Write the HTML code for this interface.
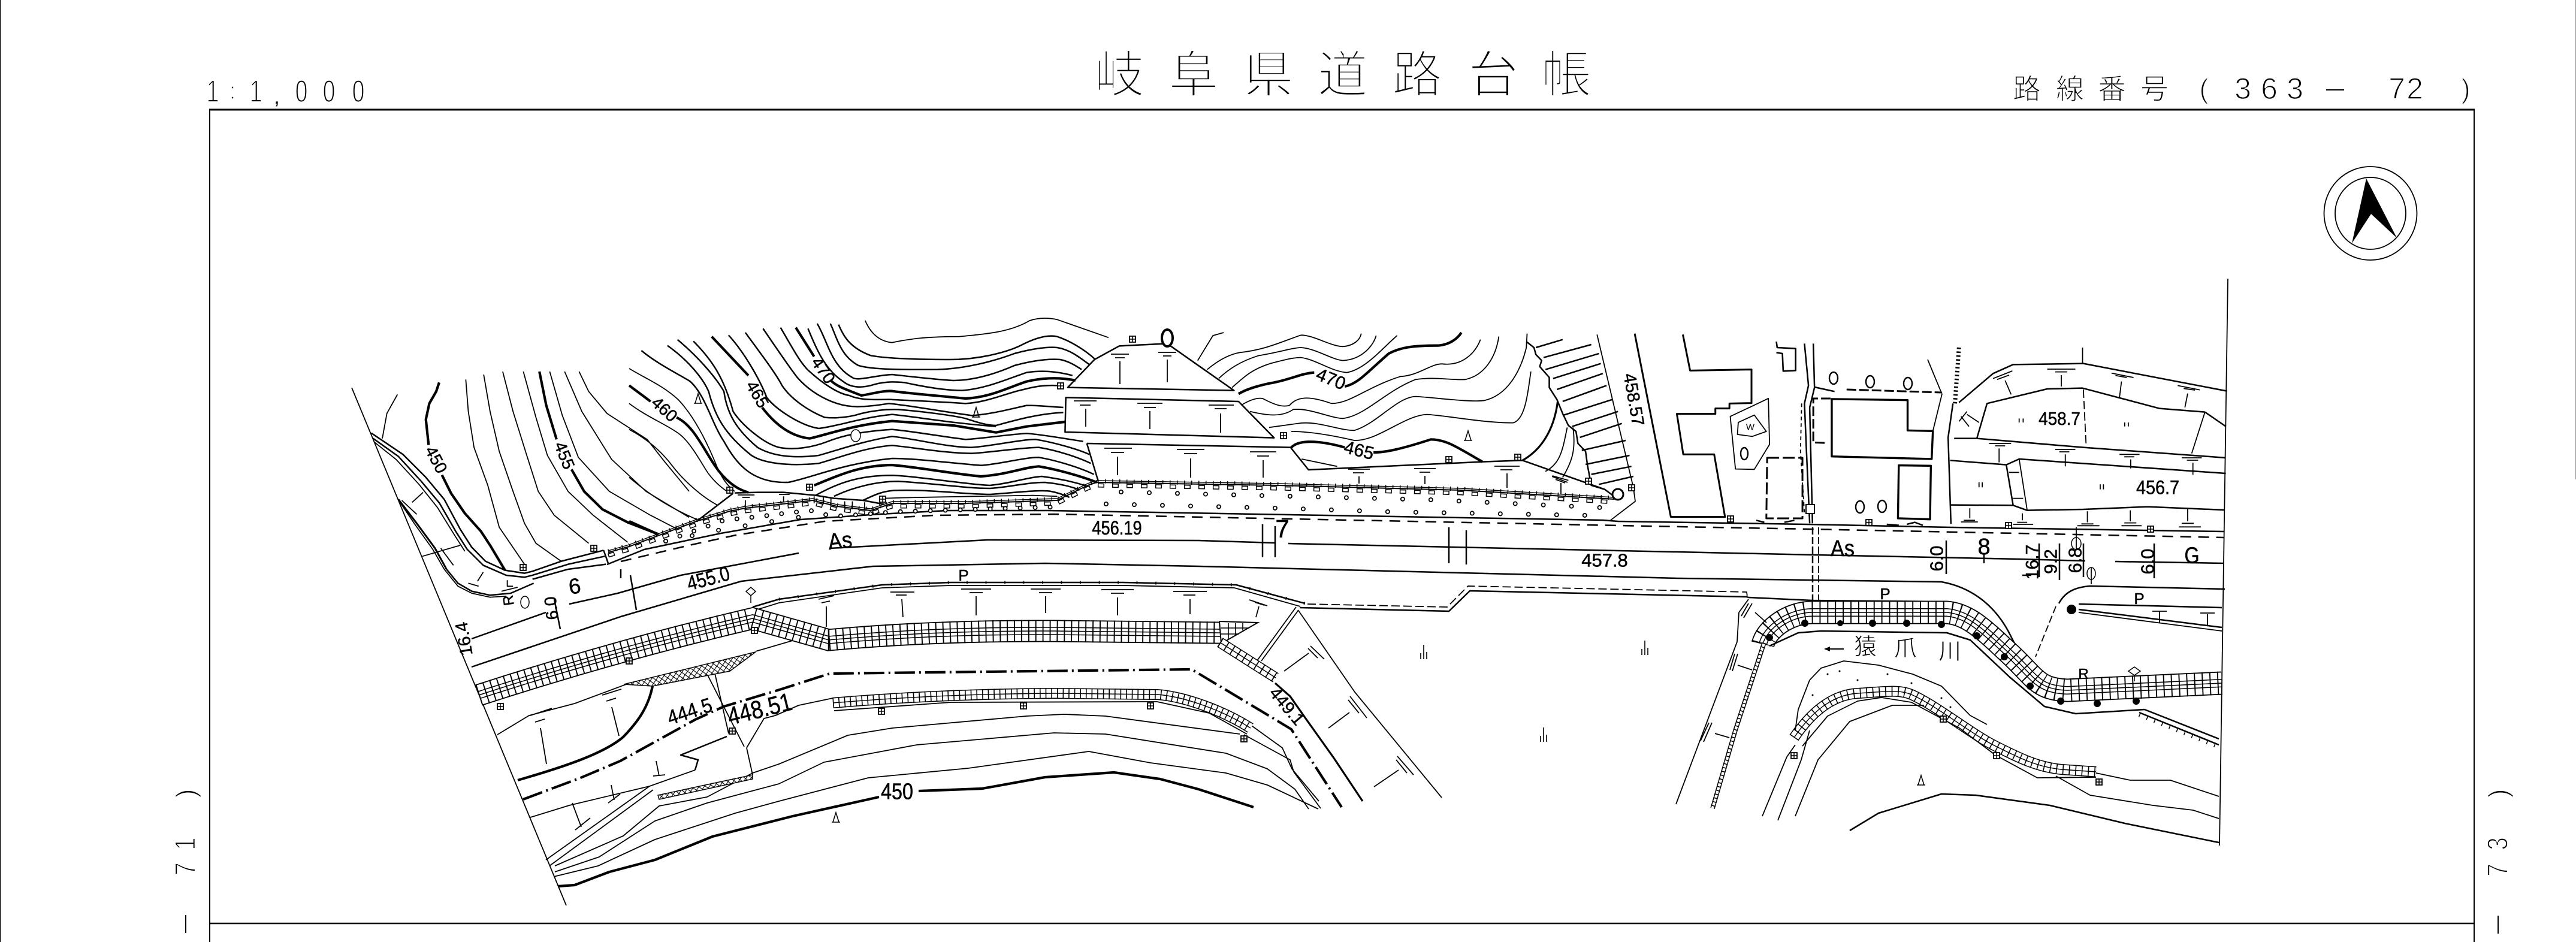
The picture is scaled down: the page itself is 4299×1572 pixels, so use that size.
<!DOCTYPE html>
<html lang="ja"><head><meta charset="utf-8"><title>岐阜県道路台帳</title>
<style>
html,body{margin:0;padding:0;background:#fff}
svg{display:block}
svg *{vector-effect:non-scaling-stroke}
.l{fill:none;stroke:#000;stroke-width:1.8;stroke-linejoin:round}
.m{fill:none;stroke:#000;stroke-width:2.5;stroke-linejoin:round}
.k{fill:none;stroke:#000;stroke-width:4.2;stroke-linejoin:round}
.f{fill:none;stroke-linejoin:miter}
text{font-family:"Liberation Sans","Noto Sans CJK JP",sans-serif;fill:#000}
.c{text-anchor:middle;dominant-baseline:central}
.tt{stroke:#fff;stroke-width:3.6}
.th{stroke:#fff;stroke-width:1.5}
.tl{stroke:#fff;stroke-width:.9}
.b{stroke:#000;stroke-width:.5}
</style></head><body>
<svg xmlns="http://www.w3.org/2000/svg" width="4299" height="1572" viewBox="0 0 4299 1572">
<defs>
<path id="bA" d="M799 1160Q1030 1085 1256 1032L1383 1068Q1560 1052 1759 1053L2037 1056"/>
<path id="bB" d="M2036 1072L2129 1131"/>
<path id="bC" d="M1390 1173Q1570 1158 1759 1157L1931 1159C1975 1162 2040 1185 2087 1215"/>
<path id="bD" d="M2942 1075C2948 1050 2985 1022 3025 1022L3249 1022C3285 1025 3310 1050 3354 1091S3400 1150 3450 1152L3708 1140"/>
<path id="bE" d="M2994 1231C3015 1200 3050 1160 3100 1157S3170 1150 3192 1160C3235 1180 3290 1225 3330 1245S3400 1280 3440 1284L3498 1288"/>
<path id="bF" d="M2944 1073L2896 1219L2858 1349"/>
<path id="row" d="M1015 922L1050 912L1162 870L1218 853L1244 848L1315 840L1356 835L1397 845L1453 852L1489 840L1611 840L1764 835L1815 810L1830 805L2133 810L2439 818L2694 833"/>
<pattern id="hx" width="7" height="7" patternUnits="userSpaceOnUse" patternTransform="rotate(35)"><rect width="7" height="7" fill="#fff"/><path d="M0 0H7M0 0V7" stroke="#000" stroke-width="2.2"/></pattern>
<g id="b"><rect x="-5" y="-5" width="10" height="10" fill="#fff" stroke="#000" stroke-width="1.8"/><path d="M0-5V5M-5 0H5" stroke="#000" stroke-width="1.5"/></g>
<g id="t"><path d="M-5 0V-10M0 0V-24M5 0V-12" fill="none" stroke="#000" stroke-width="1.6"/></g>
<path id="lam" d="M-5 8L0-8L5 8M-7 8H7" fill="none" stroke="#000" stroke-width="1.6"/>
</defs>
<rect width="4299" height="1572" fill="#fff"/>

<!-- page edges and frame -->
<path d="M1 0V1572" stroke="#000" stroke-width="1.5"/>
<path d="M4297.5 0V800" stroke="#000" stroke-width="1"/>
<path d="M350 183V1572" stroke="#000" stroke-width="2"/>
<path d="M4129 183V1572" stroke="#000" stroke-width="2"/>
<path d="M349 183H4130" stroke="#000" stroke-width="3"/>
<path d="M350 1541H4129" stroke="#000" stroke-width="2.5"/>

<!-- title block -->
<text class="tt" font-size="84" y="154" x="1826 1950 2075 2199 2323 2450 2572">岐阜県道路台帳</text>
<g font-size="52">
<text class="th c" transform="translate(355 152) scale(.72 1)">1</text>
<text class="th c" transform="translate(388 152)" font-size="40">:</text>
<text class="th c" transform="translate(427 152) scale(.72 1)">1</text>
<text class="c" transform="translate(462 162)" font-size="34">,</text>
<text class="th c" transform="translate(503 152) scale(.72 1)">0</text>
<text class="th c" transform="translate(549 152) scale(.72 1)">0</text>
<text class="th c" transform="translate(598 152) scale(.72 1)">0</text>
</g>
<text class="th" font-size="47" y="165" x="3359 3431 3501 3572">路線番号</text>
<g font-size="50">
<text class="th c" x="3678" y="148" font-size="46">(</text>
<text class="th c" x="3743" y="148">3</text><text class="th c" x="3787" y="148">6</text><text class="th c" x="3830" y="148">3</text>
<path d="M3882 150H3912" stroke="#000" stroke-width="2"/>
<text class="th c" x="4000" y="148">7</text><text class="th c" x="4030" y="148">2</text>
<text class="th c" x="4115" y="148" font-size="46">)</text>
</g>
<g font-size="48">
<text class="th c" transform="translate(310 1324) rotate(-90)" font-size="46">)</text>
<text class="th c" transform="translate(310 1408) rotate(-90) scale(.8 1)">1</text>
<text class="th c" transform="translate(310 1450) rotate(-90) scale(.8 1)">7</text>
<path d="M310 1527V1557" stroke="#000" stroke-width="2"/>
<text class="th c" transform="translate(4169 1324) rotate(-90)" font-size="46">)</text>
<text class="th c" transform="translate(4169 1408) rotate(-90) scale(.8 1)">3</text>
<text class="th c" transform="translate(4169 1452) rotate(-90) scale(.8 1)">7</text>
<path d="M4169 1528V1558" stroke="#000" stroke-width="2"/>
</g>

<!-- north arrow -->
<ellipse cx="3956" cy="356" rx="77.5" ry="78" fill="none" stroke="#000" stroke-width="1.8"/>
<ellipse cx="3956" cy="356" rx="59" ry="60" fill="none" stroke="#000" stroke-width="1.8"/>
<path d="M3949 298L4000 397L3957 357L3925 406Z" fill="#000"/>

<!-- left boundary -->
<path class="l" d="M587 647L945 1511"/>

<!-- Z8 left contours and road -->
<g transform="translate(550 620) scale(.3827 .3333)">
<path class="k" d="M478 55L465 100L435 160L420 240L432 368M490 518L530 610L590 710L660 800L700 870L765 995"/>
<path class="l" d="M296 115L250 210L230 335"/>
<path class="m" d="M182 308L320 415L420 530L500 640L570 790L620 880L680 950L765 995L850 1010L885 1000L1010 950L1195 895"/>
<path class="m" d="M190 335L300 425L400 550L480 660L550 800L600 890L670 970L770 1020L850 1030L885 1020L1040 965L1200 925"/>
<path class="l" d="M197 355L290 440L390 565L470 680L540 810L590 900"/>
<path class="m" d="M1195 895L1215 960M885 1040L1040 990L1205 965"/>
<path class="k" style="stroke-width:3" d="M300 640L380 760L460 885L510 990"/>
<path class="m" d="M510 990L560 1060L620 1100L700 1120L790 1110L890 1060"/>
<path class="l" d="M310 660L375 770L450 890L500 990L560 1075L620 1110L700 1130L770 1125"/>
<path class="l" d="M594 40L605 200L630 380L690 570L740 780L850 965"/>
<path class="l" d="M672 15L700 200L740 400L800 600L850 760L900 860L1010 950"/>
<path class="l" d="M755 0L800 200L860 420L910 600L980 720L1130 860"/>
<path class="k" d="M915 0L945 170L990 340M1055 490L1110 600L1190 690L1300 755L1435 815"/>
<path class="l" d="M845 0L900 230L950 420L1040 600L1150 720L1300 855"/>
<path class="l" d="M960 0L1015 220L1085 430L1220 600L1400 720L1510 785"/>
<path class="l" d="M1025 0L1100 200L1230 440L1380 600L1568 730"/>
<path class="l" d="M1088 0L1130 100L1210 210L1385 340L1460 450L1568 600"/>
<path class="l" d="M408 605L360 655M315 645L380 715M405 925L570 870M485 885L540 970M670 1005L645 1050M605 1060L650 1075M775 1045V1075H800M750 1100L820 1080"/>
</g>

<!-- Z7 middle contours -->
<g transform="translate(1050 520) scale(.5102 .3333)">
<path class="l" d="M772 45C790 110 820 150 860 155C920 135 980 125 1080 125C1180 110 1250 100 1310 45C1340 30 1370 30 1400 40L1568 130"/>
<path class="m" d="M685 65C700 120 720 180 790 220C860 240 1000 240 1050 240C1150 240 1240 200 1280 170C1330 130 1370 115 1400 125C1440 145 1490 190 1525 240"/>
<path class="m" d="M658 60C680 130 690 220 750 270C800 295 950 290 1010 290C1100 285 1190 250 1260 210C1320 185 1370 175 1400 180C1440 190 1470 225 1505 265"/>
<path class="m" d="M615 60C650 150 660 270 730 330C745 350 800 320 860 315C920 325 1000 340 1060 345C1130 345 1200 310 1260 270C1320 245 1370 235 1410 240C1440 250 1460 270 1480 290"/>
<path class="m" d="M585 85C610 180 640 290 700 350C720 375 750 385 790 370C830 350 860 350 900 355C960 375 1030 395 1090 395C1170 385 1240 335 1300 305C1340 295 1390 295 1450 320"/>
<path class="k" d="M545 80L605 225M660 345C675 370 700 385 760 420C800 410 830 395 860 398C920 410 1000 420 1100 435C1180 430 1240 380 1300 350C1340 335 1400 325 1460 345"/>
<path class="m" d="M495 80C530 170 560 260 590 300C630 355 680 410 720 420C750 440 780 442 850 440C920 445 1000 450 1100 460C1170 455 1240 405 1290 390C1340 370 1370 368 1400 370"/>
<path class="m" d="M438 85C480 180 520 270 550 330C590 400 640 440 680 460C720 480 760 482 850 460C920 470 1020 500 1120 520C1180 515 1240 490 1300 470C1350 470 1390 478 1420 480"/>
<path class="m" d="M380 105C430 210 480 310 500 370C530 440 590 500 640 530C680 535 720 530 760 510C800 495 840 488 880 490C960 500 1060 520 1100 535C1140 555 1170 570 1200 570C1260 545 1340 510 1420 505"/>
<path class="k" d="M270 125L390 320M435 480C480 570 530 625 590 635C640 620 720 570 860 548L1060 570L1200 605L1300 575L1425 552"/>
<path class="m" d="M325 118C380 210 430 350 450 430C480 490 560 570 620 585C680 575 760 530 860 515C930 525 1060 560 1200 575"/>
<path class="m" d="M210 148C270 240 310 330 340 500C370 570 440 660 490 680C540 695 600 680 650 650C700 620 760 600 860 590C930 600 1020 625 1100 640C1160 635 1240 615 1300 610C1350 615 1440 640 1485 650"/>
<path class="m" d="M158 140C220 220 280 320 310 400C320 510 350 590 420 680C470 725 540 735 620 720C680 695 760 650 860 625C930 635 1040 680 1120 680C1180 675 1280 640 1330 640C1390 655 1470 690 1505 715"/>
<path class="m" d="M125 170C190 240 240 330 260 400C280 520 310 610 400 720C440 760 520 775 620 760C680 735 770 680 860 670C930 680 1040 710 1120 710C1180 705 1290 680 1340 680C1400 695 1470 730 1510 760"/>
<path class="m" d="M40 195C90 260 170 320 200 350C250 420 270 560 310 650C350 760 400 860 520 855C600 830 700 760 860 735C940 735 1060 760 1150 770C1210 765 1290 730 1340 730C1400 745 1480 785 1520 815"/>
<path class="k" d="M0 370L70 450M155 530C210 570 240 680 280 770C310 840 350 890 390 905"/>
<path class="l" d="M0 285C60 340 110 370 160 440C210 520 250 640 280 750C300 830 320 870 345 900"/>
<path class="l" d="M0 460C60 530 130 570 170 620C200 660 230 740 250 790C270 840 300 880 320 900"/>
<path class="l" d="M0 590C50 630 100 690 140 770C180 850 240 930 290 970"/>
<path class="l" d="M0 830C40 880 100 960 220 1040"/>
<path class="k" d="M0 1050L95 1115"/>
<path class="k" d="M605 870C700 810 760 770 860 768C950 780 1050 810 1150 825C1240 815 1290 780 1340 775C1400 790 1480 825 1530 855"/>
<path class="m" d="M610 920C680 860 750 820 860 820C950 825 1100 865 1180 870C1250 860 1300 830 1350 825C1420 840 1460 855 1500 875"/>
<path class="m" d="M670 925C730 880 810 850 880 850C1000 860 1100 885 1180 885C1240 880 1300 855 1360 855C1420 865 1440 875 1470 890"/>
<path class="m" d="M765 945C800 920 830 895 880 895C980 890 1100 915 1180 915C1240 910 1340 890 1380 900C1410 910 1425 920 1440 930"/>
<path class="l" d="M830 935C900 930 1150 925 1320 920L1400 925"/>
<path class="m" d="M345 908L420 905L505 905L610 920L670 935L765 945L835 965"/>
<path class="m" d="M340 910L225 1045"/>
<path class="l" d="M355 918H410M370 930H395M380 945V985M490 915H525M505 925V955M605 925V960M635 930V965M660 930V970M705 950V985M730 950V990M770 955V995"/>
</g>

<!-- Z9 pads -->
<g transform="translate(1750 520) scale(.6378 .3333)">
<path class="m" d="M50 380L120 240L185 172L310 160L485 395Z"/>
<path class="m" d="M45 430L497 450L590 632L43 603Z"/>
<path class="m" d="M100 660L633 680L680 792L1135 752L1240 745L1455 890L1490 940M100 660L130 850"/>
<path class="l" d="M662 738L755 775"/>
<path class="l" d="M390 245L430 120L458 105"/>
<path class="l" d="M415 290C440 250 470 215 500 205C570 190 610 150 660 118C690 115 740 175 770 175C800 170 815 140 818 110"/>
<path class="l" d="M445 335C470 290 500 250 550 220C600 205 640 180 660 180C700 185 740 240 770 245C820 240 850 170 857 120"/>
<path class="l" d="M480 380C510 330 530 290 580 260C620 240 640 230 660 230C700 240 740 300 780 305C830 290 880 170 912 120"/>
<path class="k" d="M497 412C520 385 560 365 590 355C640 335 660 310 695 305M775 375C810 360 830 310 890 210C920 180 950 170 1020 170C1050 165 1070 135 1080 105"/>
<path class="l" d="M507 465C525 445 545 430 560 435C590 465 610 480 630 470C650 425 680 420 740 460C790 460 830 380 920 325C970 320 1000 260 1030 262C1090 275 1120 190 1130 140"/>
<path class="l" d="M527 500C570 520 610 530 640 490C680 480 740 535 770 535C830 520 880 400 960 340C1010 325 1060 345 1090 340C1140 320 1170 230 1178 125"/>
<path class="l" d="M577 580L660 558C710 550 760 595 800 595C860 560 910 430 960 425C1010 430 1100 455 1140 445C1200 420 1235 300 1250 180L1252 110"/>
<path class="l" d="M635 600C670 600 720 610 800 645C860 650 930 520 990 515C1040 520 1140 558 1215 557C1250 540 1255 380 1262 300"/>
<path class="k" d="M635 680C650 650 690 635 775 680M850 705C880 705 920 690 1000 640C1040 640 1070 680 1135 752"/>
<path class="k" style="stroke-width:3.2" d="M1240 745C1300 680 1325 560 1332 450"/>
<path class="l" d="M1300 800C1340 760 1345 690 1357 580M1345 830C1370 750 1380 690 1372 580"/>
<path class="m" d="M1250 150L1270 180L1275 215L1290 245L1285 275L1310 330L1310 380L1330 440L1345 510L1360 570L1380 600L1385 660L1405 700L1410 770L1420 870L1455 890"/>
<path class="l" d="M1435 115L1530 880L1535 950L1470 1045"/>
<path class="m" d="M1275 180L1345 140M1295 230L1420 165M1300 290L1440 210M1320 335L1445 260M1330 390L1450 310M1345 450L1460 370M1345 520L1475 440M1370 575L1490 500M1390 630L1500 560M1395 695L1510 645M1405 765L1520 720M1420 815L1525 775M1440 865L1530 825"/>
<path class="l" d="M1318 822L1360 845"/>
</g>

<!-- marks -->
<path class="l" d="M1854 591h30M1861 597h16M1869 603v38M1933 588h30M1941 594h14M1948 600v38
M1792 669h38M1802 676h18M1812 682v30M1898 673h42M1909 680h20M1919 686v30M2017 676h42M2027 682h20M2037 690v32
M1843 748h46M1854 755h22M1865 762v31M1964 750h46M1976 757h22M1987 765v32M2086 754h44M2098 761h20M2108 768v29
M2250 783h36M2258 789h18M2268 795v12M2360 782h36M2369 788h18M2378 794v14M2494 778h42M2504 784h20M2515 790v24M2590 795l26 10M2596 800l16 6M2605 806v18
M1366 1000l26-6M1371 1006l14-3M1379 1012v34M1486 988h40M1495 993h18M1505 1000l2 30M1604 983h50M1618 989h22M1629 995v32M1720 983h50M1734 989h22M1745 995v28M1838 984h54M1854 990h22M1865 997v30M1958 987h56M1975 993h20M1986 1000v25M2085 1001l30 10M2094 1005l16 5M2101 1012l-5 18
M885 1194l36-12M893 1205l16-5M902 1215l10 60M1005 1160l32-10M1012 1170l16-5M1021 1180l12 48
M1175 1115L1242 1246M1191 1115L1216 1224
"/>

<!-- roads -->
<path class="m" d="M1013 942L1075 917L1203 890L1336 867L1468 858L1581 852L1750 852L2675 868L2700 870L3015 875L3256 880L3711 887"/>
<path class="m" style="stroke-dasharray:18 12" d="M1036 937L1150 910L1228 893L1376 870L1560 860L1760 858L2750 878L3021 883L3711 897"/>
<path class="m" d="M787 1066L911 1022M950 1008L1031 990L1136 960L1333 923M1385 915L1648 901L2000 902L2128 906M2150 907L3028 926L3370 933L3480 936M3530 937L3711 940"/>
<path class="m" d="M787 1113L1036 1029L1237 970L1457 945L1744 940L2000 945L2800 965L3240 971C3290 980 3330 1010 3355 1060S3385 1110 3400 1125"/>
<path class="m" d="M3436 1007C3445 990 3460 980 3488 978L3713 983"/>
<path class="l" style="stroke-dasharray:12 5" d="M3431 1012L3397 1096"/>
<path class="m" d="M1256 1013L1300 1000L1472 976L1587 972L1874 972L2063 976L2178 1007"/>
<path class="l" d="M1258 1019L1300 1006L1472 981L1587 977L1874 977L2060 981L2170 1012"/>
<path fill="none" stroke="#000" stroke-width="5" stroke-dasharray="1.5 30" d="M1300 1000L1472 976L1587 972L1874 972L2063 976L2178 1007"/>
<path class="l" style="stroke-dasharray:14 6" d="M2182 1008L2415 1013L2450 978L2915 988L2916 996"/>
<path class="m" d="M2169 1014L2418 1020L2453 986L2915 996L2918 997L3025 1002L3240 1004"/>
<path class="l" d="M2163 1013L2096 1105M2167 1018L2105 1103M2167 1019L2261 1155L2406 1331"/>
<path class="k" style="stroke-width:3.2" d="M2128 1140L2153 1162L2179 1199L2226 1265L2274 1337"/>
<path class="k" style="stroke-dasharray:34 7 3 7" d="M873 1334L969 1298L1035 1270L1160 1201L1208 1179L1304 1150L1385 1124L1989 1117L1997 1122L2127 1200L2155 1217L2239 1347"/>
<path class="l" d="M2902 1022L2899 1071L2797 1342M2902 1022L2918 1000"/>
<path class="m" d="M3025 880V1005" style="stroke-dasharray:12 4"/><path class="l" d="M3035 880V1005" style="stroke-dasharray:12 4"/>

<!-- bottom contours -->
<path class="k" d="M931 1479L959 1477L1017 1455L1093 1435L1189 1396L1323 1362L1467 1330M1533 1320L1639 1316L1744 1297L1859 1289L1936 1300L2000 1317L2092 1347"/>
<path class="l" d="M924 1463L998 1445L1093 1401L1227 1357L1300 1337L1449 1298L1616 1282L1817 1254L1920 1273L2046 1290L2115 1310L2200 1350"/>
<path class="l" d="M926 1455L1000 1430L1093 1370L1180 1340L1300 1308L1375 1272L1530 1243L1759 1223L1845 1225L2046 1257L2115 1283L2161 1317L2184 1350"/>
<path class="l" d="M926 1445L1040 1395L1100 1345L1180 1330L1256 1290L1300 1275L1415 1227L1489 1215L1713 1195L1776 1192L1845 1195L2069 1225"/>
<path class="l" d="M911 1435L1084 1312L1160 1285M917 1445L1090 1318M2076 1226L2153 1268L2159 1288L2204 1349M2086 1209L2140 1248L2156 1283L2201 1337"/>
<path class="l" d="M1390 1165L1333 1177L1294 1194L1275 1199L1246 1248M1246 1248L1256 1293"/>
<path class="m" d="M1160 1285L1165 1268L1136 1260L1213 1229"/>
<path class="k" d="M1089 1145C1082 1180 1065 1204 1040 1230C1007 1258 940 1280 864 1302"/>
<path class="l" d="M1045 1142L959 1174L883 1194L830 1226M1261 1087L1333 1066M885 1364L950 1344L1084 1312"/>
<path d="M1041 1142L1261 1088L1218 1120L1089 1145Z" fill="url(#hx)" stroke="#000" stroke-width="1.5"/>
<path d="M1098 1327L1256 1293L1256 1300L1100 1334Z" fill="url(#hx)" stroke="#000" stroke-width="1.5"/>
<path class="l" d="M1100 1295L1095 1270M1090 1295L1110 1293M1025 1335L1020 1310M1015 1340L1035 1325M970 1380L955 1340M960 1385L985 1365"/>

<!-- mesh bands -->
<g class="f">
<use href="#bA" stroke="#000" stroke-width="37"/><use href="#bA" stroke="#fff" stroke-width="33.4"/><use href="#bA" stroke="#000" stroke-width="13.5"/><use href="#bA" stroke="#fff" stroke-width="10.5"/><use href="#bA" stroke="#000" stroke-width="1.5"/><use href="#bA" stroke="#000" stroke-width="37" stroke-dasharray="1.9 10"/>
<path d="M2035 1037L2099 1039L2038 1074Z" fill="#fff" stroke="#000" stroke-width="2"/>
<path d="M2050 1040V1068M2062 1040V1060M2074 1040V1052M2038 1048H2085M2038 1058H2068" fill="none" stroke="#000" stroke-width="1.6"/>
<use href="#bB" stroke="#000" stroke-width="18"/><use href="#bB" stroke="#fff" stroke-width="15"/><use href="#bB" stroke="#000" stroke-width="1.4"/><use href="#bB" stroke="#000" stroke-width="18" stroke-dasharray="1.8 10"/>
<use href="#bC" stroke="#000" stroke-width="18"/><use href="#bC" stroke="#fff" stroke-width="15"/><use href="#bC" stroke="#000" stroke-width="1.4"/><use href="#bC" stroke="#000" stroke-width="18" stroke-dasharray="1.6 8"/>
<use href="#bD" stroke="#000" stroke-width="39"/><use href="#bD" stroke="#fff" stroke-width="35.4"/><use href="#bD" stroke="#000" stroke-width="14"/><use href="#bD" stroke="#fff" stroke-width="11"/><use href="#bD" stroke="#000" stroke-width="1.5"/><use href="#bD" stroke="#000" stroke-width="39" stroke-dasharray="1.9 11"/>
<use href="#bE" stroke="#000" stroke-width="18"/><use href="#bE" stroke="#fff" stroke-width="15"/><use href="#bE" stroke="#000" stroke-width="1.4"/><use href="#bE" stroke="#000" stroke-width="18" stroke-dasharray="1.6 9"/>
<use href="#bF" stroke="#000" stroke-width="7.5"/><use href="#bF" stroke="#fff" stroke-width="4.5"/><use href="#bF" stroke="#000" stroke-width="7.5" stroke-dasharray="1.6 5"/>
</g>
<path class="l" d="M1392 1186L1587 1172L1931 1171L2018 1190L2081 1225"/>
<path class="m" d="M1383 1086L1383 1050"/>
<path class="l" d="M3008 1245L3050 1195L3100 1170L3140 1164L3190 1172L3270 1215L3330 1260L3400 1298L3498 1297"/>

<!-- stone rows -->
<g fill="none">
<use href="#row" stroke="#000" stroke-width="2"/>
<use href="#row" y="-3" stroke="#000" stroke-width="1.4"/>
<use href="#row" y="5" stroke="#000" stroke-width="7" stroke-dasharray="11 13"/>
<use href="#row" y="5" stroke="#fff" stroke-width="4" stroke-dasharray="8 16" stroke-dashoffset="-1.5"/>
<use href="#row" y="-2" stroke="#000" stroke-width="7" stroke-dasharray="1.5 10.5"/>
</g>
<!-- dot fields -->
<g fill="none" stroke-linecap="round">
<path stroke="#000" stroke-width="8" stroke-dasharray="0 47" d="M1871 821L2108 827L2388 834L2671 847"/>
<path stroke="#fff" stroke-width="4.4" stroke-dasharray="0 47" d="M1871 821L2108 827L2388 834L2671 847"/>
<path stroke="#000" stroke-width="8" stroke-dasharray="0 47" d="M1846 841L2133 848L2318 854L2646 860"/>
<path stroke="#fff" stroke-width="4.4" stroke-dasharray="0 47" d="M1846 841L2133 848L2318 854L2646 860"/>
<path stroke="#000" stroke-width="8" stroke-dasharray="0 25" d="M1111 903L1209 868L1268 862L1314 856L1353 852L1382 860L1405 861L1495 854L1760 846"/>
<path stroke="#fff" stroke-width="4.4" stroke-dasharray="0 25" d="M1111 903L1209 868L1268 862L1314 856L1353 852L1382 860L1405 861L1495 854L1760 846"/>
<path stroke="#000" stroke-width="8" stroke-dasharray="0 45" d="M1111 903L1208 883L1341 862"/>
<path stroke="#fff" stroke-width="4.4" stroke-dasharray="0 45" d="M1111 903L1208 883L1341 862"/>
</g>

<!-- Z10 top-right blocks -->
<g transform="translate(2700 540) scale(.6697 .3333)">
<path class="k" style="stroke-width:3" d="M42 50L132 968L267 968L240 655L163 655L147 452L243 452L243 425L278 425L278 400L333 398L333 230L180 235L162 55"/>
<path class="k" style="stroke-width:3.4" d="M533 378L722 383L722 535L785 538L782 678L533 665Z"/>
<path class="l" d="M808 350L785 538"/>
<path class="k" style="stroke-dasharray:16 5;stroke-width:3" d="M530 375L487 375L487 595L520 598"/>
<path class="k" style="stroke-dasharray:20 6;stroke-width:3" d="M372 672L460 672L460 975L370 975Z"/>
<path class="k" style="stroke-width:3.4" d="M700 710L780 712L778 980L698 975Z"/>
<path class="m" d="M465 100L475 310L465 400L470 640L478 1000"/>
<path class="m" d="M487 100L490 320L478 420L485 1000"/>
<path class="l" style="stroke-dasharray:6 5" d="M458 400L455 640L465 950"/>
<path class="k" style="stroke-width:2.6" d="M395 90L397 120L443 125L443 235L412 238L410 150L395 145"/>
<path class="m" d="M490 318L540 340"/><path class="k" style="stroke-dasharray:16 5;stroke-width:3" d="M570 330L808 345"/>
<path class="l" d="M772 180L805 340"/>
<path class="k" style="stroke-dasharray:2.5 4;stroke-width:7" d="M850 120L840 400"/>
<path class="m" d="M835 400L823 570L830 1003"/>
<path class="m" d="M1518 338L1160 200L985 205L935 250L850 395"/>
<path class="m" d="M895 572L920 400L1070 327L1158 323L1350 425L1463 443M1463 443L1515 515"/>
<path class="l" d="M1463 443L1430 650"/>
<path class="m" d="M838 575L895 575L1160 620L1515 672"/>
<path class="l" style="stroke-dasharray:14 5" d="M1160 330L1167 615"/><path class="l" d="M1158 120V200"/>
<path class="m" d="M828 685L968 707L1000 678L1515 750"/>
<path class="m" d="M968 707L985 910L1020 935L1160 930L1320 917L1510 933"/>
<path class="l" d="M1000 678L1020 935"/>
<path class="m" d="M830 908L985 910"/>
<path class="l" d="M1070 228h70M1090 242h30M1105 258V315M935 275l48-38M945 280l30-22M965 285l15 70M1230 248l55 22M1240 260l28 10M1255 290l-5 80M1395 310l55 22M1410 325l28 8M1420 350l-7 70M925 600h55M940 612h25M950 625v70M1090 630h50M1100 642h25M1115 655v60M1250 655h50M1262 667h25M1278 680v45M1405 672h50M1418 684h28M1433 697v60M855 465l20 50M850 490l20-50M870 455l30 40"/>
<path class="l" d="M877 925V975M862 985h28M855 993h42M1008 950V985M995 995h25M985 1005h50M1170 940V995M1155 1003h30M1145 1012h55M1277 935V990M1262 998h30M1255 1012h50M1420 925V990M1405 1000h30M1398 1018h55"/>
<path class="l" d="M280 465L375 375L378 605L340 730L293 728Z"/>
<path class="l" d="M300 495L340 458L370 540L335 565L298 555Z"/>
<path class="l" d="M1000 475v20M1010 475v20M1263 495v20M1272 495v20M1202 805v25M1210 805v25M900 795v25M908 795v25M975 745h25M985 875h25"/>
<path class="m" d="M345 985L365 995M415 995L440 985M670 1005L700 1010M720 1005L740 995L760 1010"/>
</g>

<!-- Z5 slope ticks and vegetation -->
<path class="l" d="M2143 1120L2184 1090M2187 1078L2210 1100M2183 1082L2199 1098M2217 1215L2252 1189M2253 1162L2281 1198M2250 1168L2268 1190M2293 1313L2334 1285M2332 1262L2359 1293M2330 1268L2348 1290"/>
<use href="#t" x="2376" y="1100"/><use href="#t" x="2745" y="1093"/><use href="#t" x="2576" y="1238"/>
<path class="l" d="M2924 1007L2910 1031M2918 1007L2906 1028M2929 1022L2948 1039M2900 1091L2891 1120M2895 1091L2887 1118M2900 1110L2924 1118M2857 1206L2843 1238M2852 1206L2838 1236M2862 1224L2886 1231"/>

<!-- river -->
<path class="m" d="M2953 1078L3001 1056L3039 1053L3249 1056L3288 1068L3354 1130L3412 1179L3464 1191L3579 1184"/>
<g fill="#000"><circle cx="2953" cy="1064" r="6"/><circle cx="3012" cy="1040" r="6"/><circle cx="3071" cy="1040" r="5"/><circle cx="3125" cy="1040" r="6"/><circle cx="3182" cy="1040" r="6"/><circle cx="3240" cy="1042" r="6"/><circle cx="3299" cy="1061" r="6"/><circle cx="3345" cy="1096" r="6"/><circle cx="3388" cy="1145" r="6"/><circle cx="3439" cy="1170" r="6"/><circle cx="3500" cy="1174" r="6"/><circle cx="3565" cy="1170" r="6"/></g>
<path class="l" d="M3020 1135L3039 1115L3077 1103L3135 1110L3192 1125L3240 1145L3288 1194L3316 1209M3020 1135L3001 1184L2996 1219"/>
<path class="l" d="M2941 1362L2982 1263L2996 1243M2967 1369L3006 1268L3020 1219M2996 1362L3034 1268L3087 1204L3158 1177L3211 1177"/>
<path class="m" d="M3087 1386L3135 1357L3240 1325L3297 1327L3421 1344L3546 1374L3703 1406"/>
<path class="l" d="M3498 1290L3555 1302L3622 1302L3703 1329M3431 1295L3488 1327L3593 1344L3660 1352L3703 1366"/>
<path class="m" d="M3579 1184L3703 1233M3570 1189L3703 1243"/>
<path fill="none" stroke="#000" stroke-width="6" stroke-dasharray="1.5 12" d="M3570 1193L3703 1247"/>
<path class="m" d="M3469 1008L3708 1014M3469 1017L3708 1047"/><path class="l" d="M3469 1022L3708 1053"/>
<circle cx="3457" cy="1017" r="8" fill="#000"/>
<path class="l" d="M3604 1020V1040M3592 1020h24M3684 1025V1045M3672 1023h24"/>
<path class="l" d="M3718 465L3704 1411"/>
<path fill="#000" d="M3044 1083l10-4v3h23v2h-23v3z"/>
<g fill="#000"><circle cx="3050" cy="1125" r="1.5"/><circle cx="3070" cy="1120" r="1.5"/><circle cx="3100" cy="1135" r="1.5"/><circle cx="3150" cy="1125" r="1.5"/><circle cx="3190" cy="1140" r="1.5"/><circle cx="3240" cy="1165" r="1.5"/><circle cx="3255" cy="1180" r="1.5"/><circle cx="3025" cy="1160" r="1.5"/></g>

<!-- boxes -->
<use href="#b" x="873" y="947"/><use href="#b" x="991" y="915"/><use href="#b" x="1218" y="818"/><use href="#b" x="1351" y="813"/><use href="#b" x="1473" y="833"/><use href="#b" x="1770" y="644"/><use href="#b" x="1890" y="566"/><use href="#b" x="2142" y="727"/><use href="#b" x="2418" y="767"/><use href="#b" x="2533" y="763"/><use href="#b" x="2651" y="803"/><use href="#b" x="2723" y="814"/><use href="#b" x="2888" y="866"/><use href="#b" x="3119" y="872"/><use href="#b" x="3352" y="877"/><use href="#b" x="3589" y="883"/><use href="#b" x="1259" y="1052"/><use href="#b" x="1050" y="1103"/><use href="#b" x="835" y="1179"/><use href="#b" x="1222" y="1220"/><use href="#b" x="1471" y="1187"/><use href="#b" x="1708" y="1178"/><use href="#b" x="1920" y="1178"/><use href="#b" x="2076" y="1233"/><use href="#b" x="3243" y="1200"/><use href="#b" x="3332" y="1261"/><use href="#b" x="2994" y="1261"/><use href="#b" x="3503" y="1305"/>
<rect x="3014" y="842" width="14" height="15" fill="#fff" stroke="#000" stroke-width="2"/>

<!-- lambda marks, circles, trees -->
<use href="#lam" x="1165" y="665"/><use href="#lam" x="2450" y="727"/><use href="#lam" x="1629" y="688"/><use href="#lam" x="1395" y="1364"/><use href="#lam" x="3206" y="1302"/>
<ellipse cx="1428" cy="727" rx="8" ry="10" fill="#fff" stroke="#000" stroke-width="1.5"/>
<ellipse cx="1948" cy="564" rx="9" ry="14" fill="#fff" stroke="#000" stroke-width="4"/>
<circle cx="2700" cy="825" r="9" fill="#fff" stroke="#000" stroke-width="3"/>
<g fill="#fff" stroke="#000" stroke-width="2.4"><ellipse cx="3060" cy="631" rx="7" ry="10"/><ellipse cx="3121" cy="637" rx="7" ry="10"/><ellipse cx="3184" cy="640" rx="7" ry="10"/><ellipse cx="3104" cy="846" rx="7" ry="10"/><ellipse cx="3141" cy="845" rx="7" ry="10"/><ellipse cx="2911" cy="757" rx="6" ry="10"/></g>
<path d="M1245 987l8-7 8 7-8 7zM1253 994v12M3552 1120l10-7 10 7-10 7zM3562 1127v10" fill="#fff" stroke="#000" stroke-width="1.5"/>
<g fill="none" stroke="#000" stroke-width="1.5"><ellipse cx="3465" cy="907" rx="8" ry="10"/><ellipse cx="3490" cy="957" rx="7" ry="10"/><ellipse cx="876" cy="1005" rx="7" ry="10"/></g>
<path class="l" d="M3465 880V917M3490 947V975"/>
<path class="m" d="M3248 902V958M3403 907V963M3437 907V968M3477 907V963M3595 907V965M3311 925V940M3375 960H3390M925 1000L935 1050M1036 965L1036 950M1052 960L1062 1018M2128 878V930M2107 875V930M2418 880V940M2447 885V942"/>

<!-- labels -->
<g font-size="28">
<text class="c b" transform="translate(728 767) rotate(62)">450</text>
<text class="c b" transform="translate(942 760) rotate(68)">455</text>
<text class="c b" transform="translate(1109 683) rotate(42)">460</text>
<text class="c b" transform="translate(1264 658) rotate(60)">465</text>
<text class="c b" transform="translate(1374 618) rotate(55)">470</text>
<text class="c b" transform="translate(2221 633) rotate(22)" font-size="30">470</text>
<text class="c b" transform="translate(2268 752) rotate(14)" font-size="30">465</text>
<text class="c b" transform="translate(2726 667) rotate(80)" font-size="29">458.57</text>
<text class="c b" transform="translate(1402 902) rotate(-6) scale(.9 1)" font-size="38">As</text>
<text class="c b" transform="translate(1864 882) scale(.85 1)" font-size="32">456.19</text>
<text class="c b" transform="translate(1182 965) rotate(-15) scale(.85 1)" font-size="34">455.0</text>
<text class="c b" transform="translate(959 978) rotate(-8)" font-size="36">6</text>
<text class="c b" transform="translate(2140 882)" font-size="42">7</text>
<text class="c b" transform="translate(2678 935)" font-size="31">457.8</text>
<text class="c b" transform="translate(3075 915) scale(.9 1)" font-size="38">As</text>
<text class="c b" transform="translate(3232 932) rotate(-90)" font-size="31">6.0</text>
<text class="c b" transform="translate(3311 913)" font-size="38">8</text>
<text class="c b" transform="translate(3392 938) rotate(-90)" font-size="30">16.7</text>
<text class="c b" transform="translate(3423 937) rotate(-90)" font-size="30">9.2</text>
<text class="c b" transform="translate(3463 935) rotate(-90)" font-size="31">6.8</text>
<text class="c b" transform="translate(3584 937) rotate(-90)" font-size="31">6.0</text>
<text class="c b" transform="translate(3658 927) scale(.85 1)" font-size="38">G</text>
<text class="c b" transform="translate(3437 699) scale(.9 1)" font-size="31">458.7</text>
<text class="c b" transform="translate(3601 814) scale(.9 1)" font-size="32">456.7</text>
<text class="c" transform="translate(2921 713)" font-size="15">W</text>
<text class="c b" transform="translate(1608 960)" font-size="26">P</text>
<text class="c b" transform="translate(3146 991)" font-size="26">P</text>
<text class="c b" transform="translate(3570 999)" font-size="26">P</text>
<text class="c b" transform="translate(3477 1125)" font-size="24">R</text>
<text class="c b" transform="translate(849 1002) rotate(-98)" font-size="24">R</text>
<text class="c b" transform="translate(775 1066) rotate(-100)" font-size="29">16.4</text>
<text class="c b" transform="translate(920 1015) rotate(-96)" font-size="28">6.0</text>
<text class="c b" transform="translate(1268 1184) rotate(-14) scale(.85 1)" font-size="42">448.51</text>
<text class="c b" transform="translate(1151 1187) rotate(-18) scale(.9 1)" font-size="34">444.5</text>
<text class="c b" transform="translate(1497 1321) scale(.85 1)" font-size="38">450</text>
<text class="c b" transform="translate(2147 1179) rotate(50)" font-size="29">449.1</text>
</g>
<text class="tl c" x="3113" y="1080" font-size="38">猿</text>
<text class="tl c" x="3180" y="1083" font-size="38">爪</text>
<text class="tl c" x="3254" y="1088" font-size="38">川</text>
</svg>
</body></html>
